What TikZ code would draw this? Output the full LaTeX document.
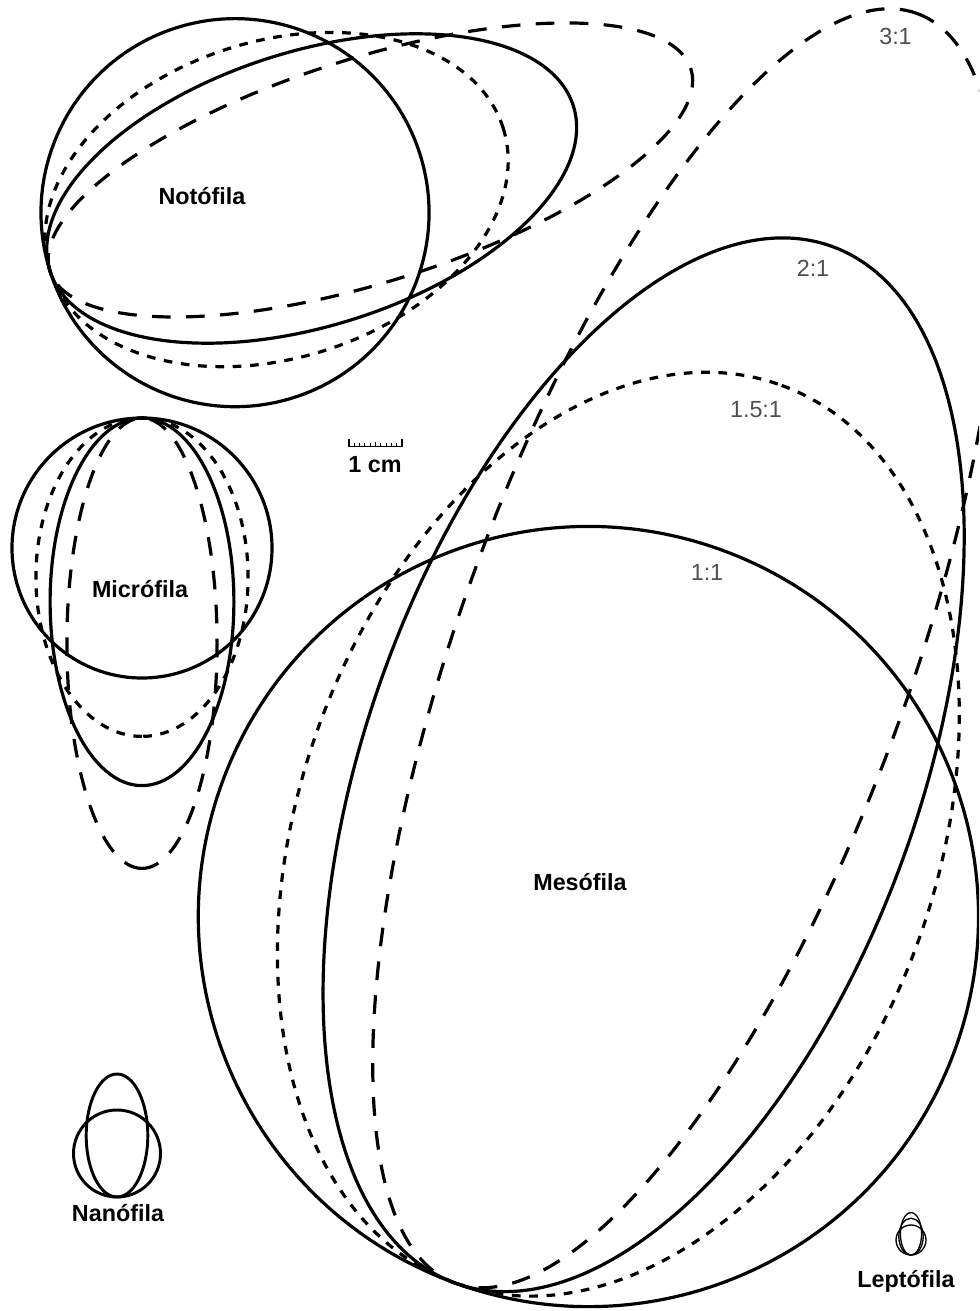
\documentclass[tikz,border=0pt]{standalone}
\usepackage{fontspec}
\setmainfont{Liberation Sans}
\usepackage{xcolor}
\usepackage{tikz}
\usetikzlibrary{positioning}
\definecolor{leafBlack}{RGB}{0,0,0}
\definecolor{ratioGray}{RGB}{80,80,80}
\tikzset{
  solidleaf/.style={draw=leafBlack, line width=2.4pt},
  dotleaf/.style={solidleaf, dash pattern=on 6.5pt off 6.5pt},
  dashleaf/.style={solidleaf, dash pattern=on 14pt off 11.5pt},
  classlabel/.style={anchor=base, inner sep=0pt, font=\bfseries\fontsize{17.5}{21}\selectfont},
  ratiolabel/.style={anchor=base, inner sep=0pt, text=ratioGray, font=\fontsize{17.5}{21}\selectfont}
}

\begin{document}
\begin{tikzpicture}[x=0.75pt,y=-0.75pt]
\useasboundingbox (0,0) rectangle (979,1311);
\fill[white] (0,0) rectangle (979,1311);
\clip (0,0) rectangle (979,1311);

\begin{scope}[shift={(455,1283)}, rotate=70]
\draw[solidleaf] (390,0) circle (390);
\draw[dotleaf] (477.6,0) ellipse (477.6 and 318.4);
\draw[solidleaf] (551.5,0) ellipse (551.5 and 275.8);
\draw[dashleaf] (675.5,0) ellipse (675.5 and 225.2);
\end{scope}

\begin{scope}[shift={(50,271)}, rotate=17.5]
\draw[solidleaf] (194,0) circle (194);
\draw[dotleaf] (237.6,0) ellipse (237.6 and 158.4);
\draw[solidleaf] (274.4,0) ellipse (274.4 and 137.2);
\draw[dashleaf] (336,0) ellipse (336 and 112);
\end{scope}

\begin{scope}[shift={(142,418)}, rotate=-90]
\draw[solidleaf] (130,0) circle (130);
\draw[dotleaf] (159.2,0) ellipse (159.2 and 106.1);
\draw[solidleaf] (183.8,0) ellipse (183.8 and 91.9);
\draw[dashleaf] (225.2,0) ellipse (225.2 and 75.1);
\end{scope}

\begin{scope}[shift={(117,1197)}, rotate=90]
\draw[solidleaf, line width=2.2pt] (43.5,0) circle (43.5);
\draw[solidleaf, line width=2.2pt] (61.5,0) ellipse (61.5 and 30.8);
\end{scope}

\begin{scope}[shift={(911,1255)}, rotate=90]
\draw[solidleaf, line width=1pt] (15,0) circle (15);
\draw[solidleaf, line width=1pt] (18.4,0) ellipse (18.4 and 12.2);
\draw[solidleaf, line width=1pt] (21.2,0) ellipse (21.2 and 10.6);
\end{scope}

\draw[line width=1pt] (349,439) -- (349,446.5) -- (402,446.5) -- (402,439);
\draw[line width=0.8pt] (354.3,446.5) -- (354.3,443) (359.6,446.5) -- (359.6,443)
  (364.9,446.5) -- (364.9,443) (370.2,446.5) -- (370.2,443) (375.5,446.5) -- (375.5,442)
  (380.8,446.5) -- (380.8,443) (386.1,446.5) -- (386.1,443) (391.4,446.5) -- (391.4,443)
  (396.7,446.5) -- (396.7,443);
\node[classlabel] (cm) at (375,472.7) {1 cm};

\node[classlabel] (noto) at (202,204) {Notófila};
\node[classlabel] (micro) at (140,597) {Micrófila};
\node[classlabel] (meso) at (580,890) {Mesófila};
\node[classlabel] (nano) at (118,1221.7) {Nanófila};
\node[classlabel] (lepto) at (906,1287) {Leptófila};

\node[ratiolabel] (r31) at (895.5,44) {3:1};
\node[ratiolabel] (r21) at (813,276.7) {2:1};
\node[ratiolabel] (r151) at (756,417) {1.5:1};
\node[ratiolabel] (r11) at (707,580) {1:1};
\end{tikzpicture}
\end{document}
